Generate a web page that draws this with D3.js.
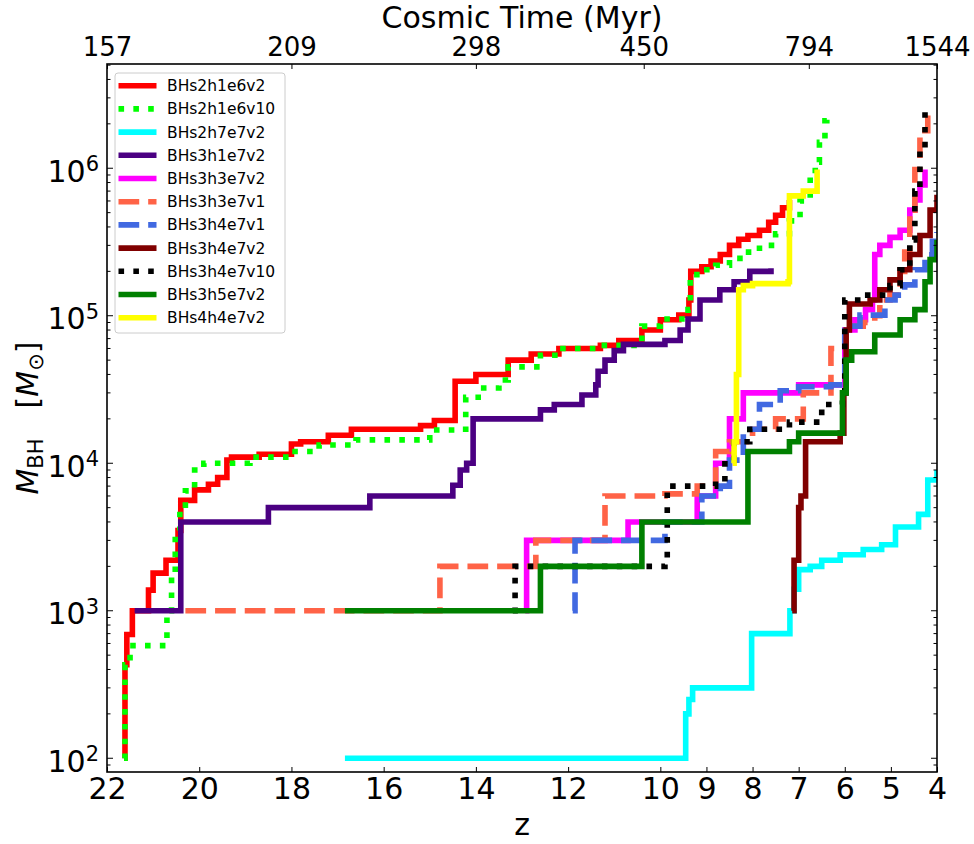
<!DOCTYPE html>
<html><head><meta charset="utf-8">
<script src="https://cdn.jsdelivr.net/npm/d3@7"></script>
<style>body{margin:0;background:#fff;} text{font-family:"DejaVu Sans",sans-serif;fill:#000;}</style>
</head><body><svg id="chart" width="974" height="844"></svg>
<script>
// ---- axis values ----
const zTicks = [22,20,18,16,14,12,10,9,8,7,6,5,4];
const timeTickZ = [22,18,14,10.36,6.78,4];
const timeTickLabels = ["157","209","298","450","794","1544"];
const massTickExp = [2,3,4,5,6];

// ---- series: [redshift z, black hole mass M_sun] ----
const BHs2h1e6v2 = [[21.63,100],[21.61,430],[21.57,690],[21.45,1000],[21.1,1380],[21.0,1800],[20.72,2200],[20.46,3500],[20.4,5600],[20.1,6600],[19.8,7200],[19.6,8000],[19.4,10500],[19.3,11000],[18.7,11500],[18.0,13500],[17.8,14000],[17.2,15500],[16.7,17000],[15.2,18000],[14.9,19500],[14.45,36000],[14.0,40000],[13.3,50000],[12.8,55000],[12.2,60000],[11.3,63000],[10.9,68000],[10.4,80000],[10.0,94000],[9.6,101000],[9.38,128000],[9.34,200000],[9.1,215000],[8.9,235000],[8.7,260000],[8.5,300000],[8.3,330000],[8.1,350000],[7.85,380000],[7.65,430000],[7.5,480000],[7.35,540000],[7.2,610000]];
const BHs2h1e6v10 = [[21.63,100],[21.61,430],[21.5,580],[20.7,1000],[20.6,1700],[20.52,3500],[20.42,4800],[20.3,6500],[20.1,9000],[19.9,10000],[18.9,11000],[18.0,12000],[17.4,13300],[16.6,14400],[15.0,16800],[14.3,17000],[14.22,28000],[13.95,32400],[13.5,36700],[13.3,45000],[12.6,54000],[12.2,60000],[11.3,63000],[10.4,85000],[10.0,95000],[9.4,110000],[9.35,190000],[9.1,205000],[8.8,220000],[8.5,245000],[8.2,270000],[7.85,300000],[7.5,360000],[7.2,440000],[6.97,600000],[6.75,830000],[6.64,1100000],[6.55,1500000],[6.43,2100000],[6.39,2250000]];
const BHs2h7e7v2 = [[16.84,100],[9.45,200],[9.38,250],[9.3,300],[8.02,700],[7.19,1000],[7.1,1400],[7.0,1900],[6.75,2000],[6.5,2200],[6.1,2400],[5.6,2600],[5.2,2800],[4.9,3700],[4.4,4500],[4.2,7700],[4.0,9000]];
const BHs3h1e7v2 = [[21.4,1000],[20.4,4000],[18.5,5000],[16.3,6000],[14.5,7100],[14.34,9000],[14.2,10000],[14.06,20000],[12.6,23000],[12.3,25000],[11.7,29000],[11.4,34000],[11.35,42000],[11.2,50000],[11.0,58000],[10.8,64000],[9.9,68000],[9.57,80000],[9.4,95000],[9.14,128000],[8.71,150000],[8.4,170000],[8.06,200000],[7.6,210000]];
const BHs3h3e7v2 = [[12.93,1000],[12.9,3000],[10.7,4000],[9.2,6000],[8.8,10000],[8.5,20000],[8.2,30000],[7.0,34000],[6.0,80000],[5.78,94000],[5.55,110000],[5.4,128000],[5.35,260000],[5.24,300000],[5.02,340000],[4.8,380000],[4.59,520000],[4.48,610000],[4.37,770000],[4.26,980000]];
const BHs3h3e7v1 = [[20.3,1000],[14.78,2000],[12.7,3000],[11.2,6000],[9.9,6200],[9.2,7000],[8.8,12000],[8.5,14000],[8.0,17000],[7.5,20000],[6.9,30000],[6.3,60000],[6.0,85000],[5.6,90000],[5.35,100000],[5.24,128000],[5.02,138000],[4.8,200000],[4.7,270000],[4.59,520000],[4.48,980000],[4.37,1800000],[4.2,2500000]];
const BHs3h4e7v1 = [[11.9,1000],[11.85,3000],[10.0,3000],[9.9,4000],[9.1,6000],[8.7,7000],[8.5,10500],[8.2,17000],[7.85,25000],[7.4,31000],[7.0,33000],[6.3,34000],[6.0,85000],[5.67,101000],[5.13,128000],[4.91,138000],[4.7,162000],[4.48,205000],[4.26,259000],[4.1,320000],[4.0,370000]];
const BHs3h4e7v2 = [[7.14,1000],[7.1,2200],[7.0,5000],[6.95,6000],[6.85,14000],[6.1,16000],[6.02,30000],[5.97,80000],[5.9,120000],[5.45,128000],[5.24,150000],[5.02,175000],[4.8,205000],[4.59,260000],[4.37,350000],[4.15,520000],[4.0,660000]];
const BHs3h4e7v10 = [[13.2,1000],[13.15,2000],[9.9,2200],[9.85,7000],[8.8,7200],[8.6,10500],[8.4,14000],[8.06,17000],[7.2,19000],[6.5,25000],[6.05,30000],[6.0,128000],[5.6,138000],[5.02,160000],[4.8,205000],[4.59,327000],[4.48,700000],[4.37,1300000],[4.26,2500000]];
const BHs3h5e7v2 = [[16.84,1000],[12.6,2000],[10.4,4000],[8.1,12000],[7.2,14000],[7.0,16000],[6.05,30000],[5.97,50000],[5.85,57000],[5.35,74000],[4.8,94000],[4.48,110000],[4.26,170000],[4.15,240000],[4.0,327000]];
const BHs4h4e7v2 = [[8.43,10000],[8.4,14000],[8.35,40000],[8.3,150000],[8.2,160000],[8.0,165000],[7.23,170000],[7.2,650000],[6.9,700000],[6.6,980000]];

const seriesNames = ["BHs2h1e6v2","BHs2h1e6v10","BHs2h7e7v2","BHs3h1e7v2","BHs3h3e7v2","BHs3h3e7v1","BHs3h4e7v1","BHs3h4e7v2","BHs3h4e7v10","BHs3h5e7v2","BHs4h4e7v2"];
const seriesData = [BHs2h1e6v2,BHs2h1e6v10,BHs2h7e7v2,BHs3h1e7v2,BHs3h3e7v2,BHs3h3e7v1,BHs3h4e7v1,BHs3h4e7v2,BHs3h4e7v10,BHs3h5e7v2,BHs4h4e7v2];
const seriesColors = ["#ff0000","#00ff00","#00ffff","#4b0082","#ff00ff","#ff6347","#4169e1","#800000","#000000","#008000","#ffff00"];
const seriesStyle = ["solid","dotted","solid","solid","solid","dashed","dashed","solid","dotted","solid","solid"];

// ---- layout ----
const L = 107, R = 937, T = 64, B = 772;
const LW = 5.6;
const dashFor = s => s === "dashed" ? `${3.7*LW},${1.6*LW}` : s === "dotted" ? `${LW},${1.65*LW}` : null;

const svg = d3.select("#chart");
const x = d3.scaleLinear().domain([22,4]).range([L,R]);
const y = d3.scaleLog().domain([80.7,5.09e6]).range([B,T]);

svg.append("defs").append("clipPath").attr("id","clip").append("rect")
  .attr("x",L).attr("y",T).attr("width",R-L).attr("height",B-T);

const line = d3.line().x(d=>x(d[0])).y(d=>y(d[1])).curve(d3.curveStepAfter);
const plot = svg.append("g").attr("clip-path","url(#clip)");
seriesData.forEach((data,i)=>{
  const p = plot.append("path").datum(data).attr("d",line)
    .attr("fill","none").attr("stroke",seriesColors[i]).attr("stroke-width",LW)
    .attr("stroke-linejoin","miter").attr("stroke-linecap","butt");
  const da = dashFor(seriesStyle[i]);
  if (da) p.attr("stroke-dasharray",da);
});

// ---- axes ----
const bottomAxis = svg.append("g").attr("transform",`translate(0,${B})`)
  .call(d3.axisBottom(x).tickValues(zTicks).tickFormat(d3.format("d")).tickSizeInner(-5).tickSizeOuter(0).tickPadding(6));
bottomAxis.selectAll("text").attr("font-size",30).attr("font-family","DejaVu Sans");
bottomAxis.select(".domain").remove();

const topAxis = svg.append("g").attr("transform",`translate(0,${T})`)
  .call(d3.axisTop(x).tickValues(timeTickZ).tickFormat((d,i)=>timeTickLabels[i]).tickSizeInner(-5).tickSizeOuter(0).tickPadding(8));
topAxis.selectAll("text").attr("font-size",26).attr("font-family","DejaVu Sans");
topAxis.select(".domain").remove();

const minorVals = [];
for (let e=1;e<=6;e++) for (let m=2;m<=9;m++){ const v=m*Math.pow(10,e); if (v>y.domain()[0] && v<y.domain()[1]) minorVals.push(v); }
const majorVals = massTickExp.map(e=>Math.pow(10,e));
const tk = svg.append("g").attr("stroke","#000").attr("stroke-width",1);
majorVals.forEach(v=>{
  tk.append("line").attr("x1",L).attr("x2",L+6).attr("y1",y(v)).attr("y2",y(v));
  tk.append("line").attr("x1",R).attr("x2",R-6).attr("y1",y(v)).attr("y2",y(v));
});
minorVals.forEach(v=>{
  tk.append("line").attr("x1",L).attr("x2",L+3.5).attr("y1",y(v)).attr("y2",y(v));
  tk.append("line").attr("x1",R).attr("x2",R-3.5).attr("y1",y(v)).attr("y2",y(v));
});
massTickExp.forEach(e=>{
  const t = svg.append("text").attr("x",L-8).attr("y",y(Math.pow(10,e))+13.4)
    .attr("text-anchor","end").attr("font-size",30);
  t.append("tspan").text("10");
  t.append("tspan").attr("font-size",21).attr("dy",-10.4).text(String(e));
});

svg.append("rect").attr("x",L).attr("y",T).attr("width",R-L).attr("height",B-T)
  .attr("fill","none").attr("stroke","#000").attr("stroke-width",1.6);

svg.append("text").attr("x",522).attr("y",835).attr("text-anchor","middle").attr("font-size",30).text("z");
svg.append("text").attr("x",522).attr("y",28).attr("text-anchor","middle").attr("font-size",30).text("Cosmic Time (Myr)");
const yl = svg.append("text").attr("transform",`translate(38,${(T+B)/2}) rotate(-90)`).attr("text-anchor","middle").attr("font-size",30);
yl.append("tspan").attr("font-style","italic").text("M");
yl.append("tspan").attr("font-size",21).attr("dy",5).text("BH");
yl.append("tspan").attr("dy",-5).text("\u2002\u2002[");
yl.append("tspan").attr("font-style","italic").text("M");
yl.append("tspan").attr("font-size",21).attr("dy",5).text("\u2299");
yl.append("tspan").attr("dy",-5).text("]");

const lg = svg.append("g");
lg.append("rect").attr("x",115).attr("y",73).attr("width",170).attr("height",260).attr("rx",3)
  .attr("fill","#fff").attr("fill-opacity",0.8).attr("stroke","#cccccc").attr("stroke-width",1);
seriesNames.forEach((n,i)=>{
  const yy = 85.7 + i*23.2;
  const ln = lg.append("line").attr("x1",118.5).attr("x2",156.5).attr("y1",yy).attr("y2",yy)
    .attr("stroke",seriesColors[i]).attr("stroke-width",LW);
  const da = dashFor(seriesStyle[i]);
  if (da) ln.attr("stroke-dasharray",da);
  lg.append("text").attr("x",167).attr("y",yy).attr("dy","0.36em").attr("font-size",15.5).text(n);
});
</script></body></html>
